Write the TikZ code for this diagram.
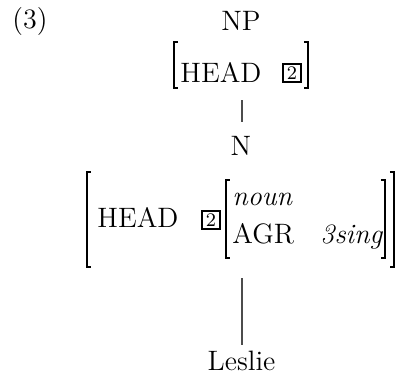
\documentclass[tikz,border=0pt]{standalone}
\begin{document}
\begin{tikzpicture}[x=0.41667pt,y=-0.41667pt,
  every node/.style={font=\fontsize{11.7}{14}\selectfont},
  txt/.style={anchor=base west,inner sep=0pt},
  ctxt/.style={anchor=base,inner sep=0pt},
  brk/.style={line width=0.5pt},
  branch/.style={line width=0.45pt,draw=black!70},
  tagbox/.style={draw,line width=0.8pt,inner sep=0.6pt,minimum width=7.2pt,minimum height=7.2pt,font=\fontsize{8}{9}\selectfont}]
\useasboundingbox (0,0) rectangle (398,375);
% labels
\node[txt] (ex) at (12,28.5) {(3)};
\node[ctxt] (np) at (241,30) {NP};
% first AVM
\draw[brk] (178,42) -- (174,42) -- (174,88) -- (178,88);
\draw[brk] (304,42) -- (308,42) -- (308,88) -- (304,88);
\node[txt] (head1) at (180,82) {HEAD};
\node[tagbox] (tag1) at (292,73) {2};
% branch NP -> N
\coordinate (b1t) at (242,100);
\coordinate (b1b) at (242,122);
\draw[branch] (b1t) -- (b1b);
\node[ctxt] (n) at (241,155) {N};
% second AVM
\draw[brk] (91,172) -- (87,172) -- (87,267) -- (91,267);
\draw[brk] (390,172) -- (394,172) -- (394,267) -- (390,267);
\node[txt] (head2) at (97,227) {HEAD};
\node[tagbox] (tag2) at (211,220) {2};
\draw[brk] (230,180) -- (226,180) -- (226,258) -- (230,258);
\draw[brk] (381,180) -- (385,180) -- (385,258) -- (381,258);
\node[txt] (noun) at (232,205) {\itshape noun};
\node[txt] (agr) at (232,243) {AGR};
\node[txt] (sing) at (320,243) {\itshape 3sing};
% branch N -> Leslie
\coordinate (b2t) at (242,278);
\coordinate (b2b) at (242,345);
\draw[branch] (b2t) -- (b2b);
\node[ctxt] (leslie) at (241.5,370) {Leslie};
\end{tikzpicture}
\end{document}
